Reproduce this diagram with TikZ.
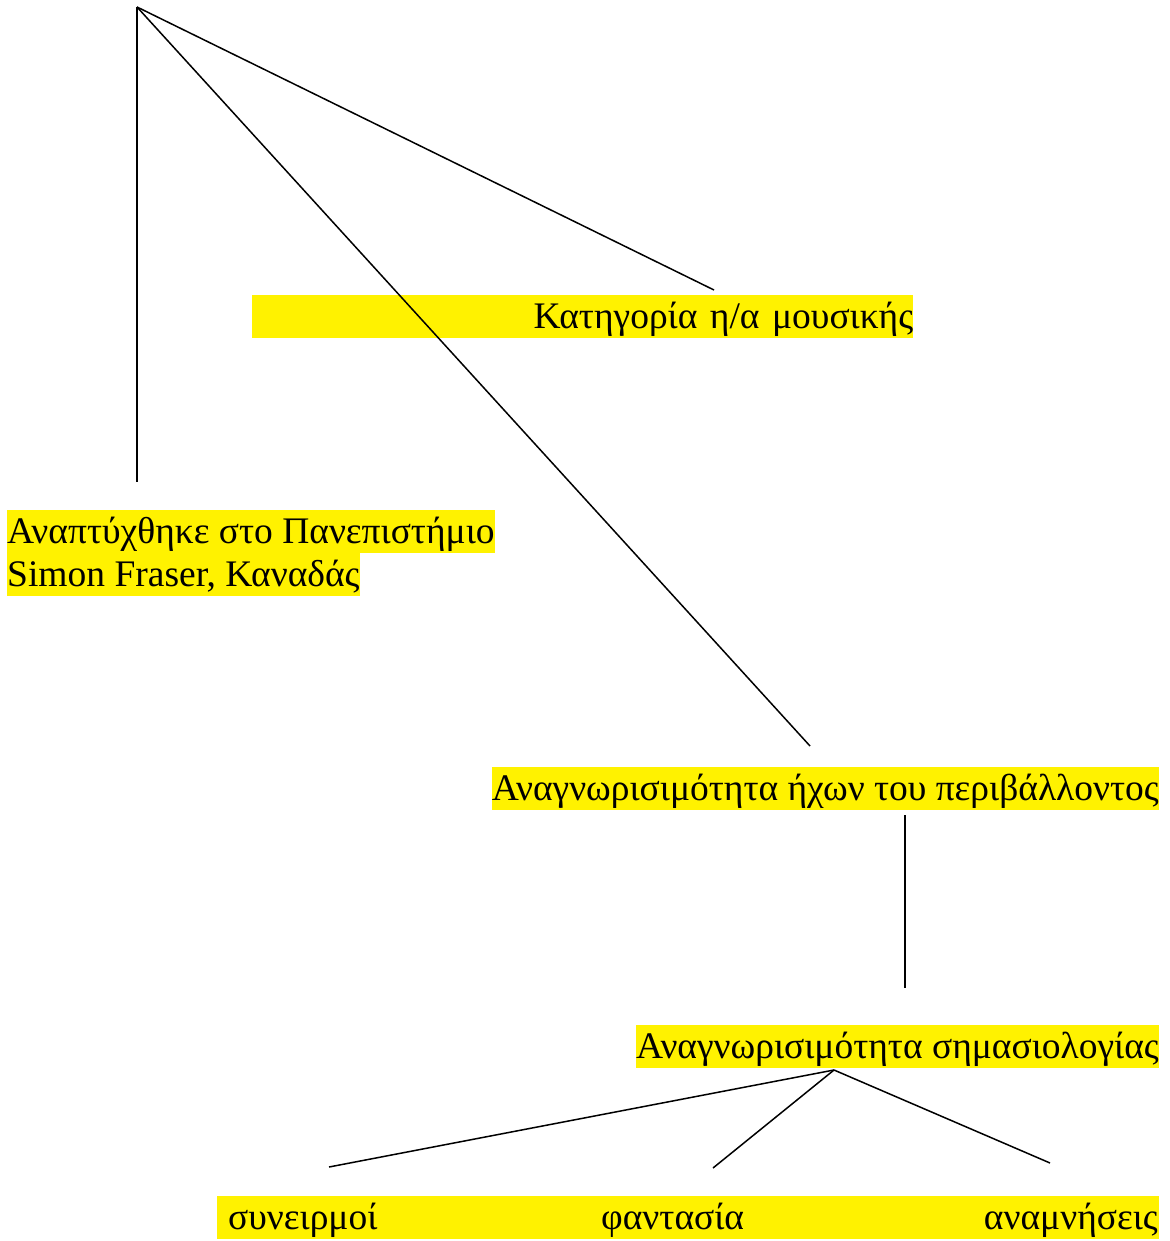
\documentclass[tikz,border=0pt]{standalone}
\usepackage{fontspec}
\setmainfont{Liberation Serif}
\usetikzlibrary{positioning}

\tikzset{
  hl/.style={fill=yellow, inner xsep=0pt, inner ysep=0pt, text height=33pt, text depth=10pt,
    font=\fontsize{37.5}{42}\selectfont},
  plain/.style={inner xsep=0pt, inner ysep=0pt, text height=33pt, text depth=10pt,
    font=\fontsize{37.5}{42}\selectfont},
  link/.style={line width=1.5pt},
}

\begin{document}
\begin{tikzpicture}[x=1pt,y=-1pt]
\useasboundingbox (0,0) rectangle (1169,1241);

% labels
\node[hl, anchor=north west, text width=661pt, align=right] (cat) at (252,295) {Κατηγορία η/α μουσικής};
\node[hl, anchor=north west] (uni) at (7,510) {Αναπτύχθηκε στο Πανεπιστήμιο};
\node[hl, anchor=north west] (sfu) at (7,553) {Simon Fraser, Καναδάς};
\node[hl, anchor=north east] (env) at (1159,767) {Αναγνωρισιμότητα ήχων του περιβάλλοντος};
\node[hl, anchor=north east] (sem) at (1159,1025) {Αναγνωρισιμότητα σημασιολογίας};
\node[hl, anchor=north west, minimum width=942pt] (bar) at (217,1196) {};
\node[plain, anchor=north west] (assoc) at (228,1196) {συνειρμοί};
\node[plain, anchor=north west] (fant) at (601,1196) {φαντασία};
\node[plain, anchor=north east] (mem) at (1158,1196) {αναμνήσεις};

% line ends
\coordinate (root) at (137,7);
\coordinate (uni-end) at (137,482);
\coordinate (cat-end) at (714,290);
\coordinate (env-end) at (810,746);
\coordinate (env-low) at (905,815);
\coordinate (sem-top) at (905,988);
\coordinate (sem-low) at (834,1070);
\coordinate (assoc-end) at (329,1167);
\coordinate (fant-end) at (713,1168);
\coordinate (mem-end) at (1050,1163);

\draw[link] (root) -- (uni-end);
\draw[link] (root) -- (cat-end);
\draw[link] (root) -- (env-end);
\draw[link] (env-low) -- (sem-top);
\draw[link] (sem-low) -- (assoc-end);
\draw[link] (sem-low) -- (fant-end);
\draw[link] (sem-low) -- (mem-end);
\end{tikzpicture}
\end{document}
